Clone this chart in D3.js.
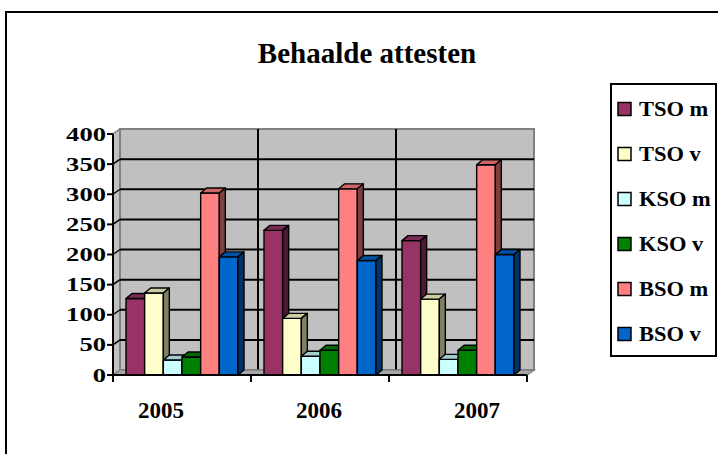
<!DOCTYPE html>
<html><head><meta charset="utf-8">
<script src="https://cdn.jsdelivr.net/npm/d3@7/dist/d3.min.js"></script>
<style>html,body{margin:0;padding:0;background:#fff;}svg{display:block;}</style>
</head><body>
<script>
// ---- data ----
const years = ["2005", "2006", "2007"];
const seriesNames = ["TSO m", "TSO v", "KSO m", "KSO v", "BSO m", "BSO v"];
const seriesColors = ["#993366", "#FFFFCC", "#CCFFFF", "#008000", "#FF8080", "#0066CC"];
const tsoM = [127, 240, 223];
const tsoV = [136, 94, 126];
const ksoM = [25, 31, 26];
const ksoV = [30, 41, 41];
const bsoM = [302, 309, 349];
const bsoV = [196, 190, 200];
const yTicks = [0, 50, 100, 150, 200, 250, 300, 350, 400];
const title = "Behaalde attesten";

const values = [tsoM, tsoV, ksoM, ksoV, bsoM, bsoV];

const W = 718, H = 454;
const svg = d3.select("body").append("svg").attr("width", W).attr("height", H);
svg.append("rect").attr("width", W).attr("height", H).attr("fill", "#fff");

// outer chart border
svg.append("rect").attr("x", 6).attr("y", 12).attr("width", 800).attr("height", 600)
  .attr("fill", "none").attr("stroke", "#000").attr("stroke-width", 2);

const font = "'Liberation Serif','Times New Roman',serif";

// title
svg.append("text").attr("x", 367).attr("y", 63).attr("text-anchor", "middle")
  .attr("font-family", font).attr("font-weight", "bold").attr("font-size", 29)
  .text(title);

// scales
const x0 = d3.scaleBand().domain(years).range([113, 527]).padding(0);
const x1 = d3.scaleBand().domain(seriesNames).range([13, 125]).padding(0);
const y = d3.scaleLinear().domain([0, 400]).range([375, 134]);
const labelX = d3.scalePoint().domain(years).range([161, 477]);

const wd = {dx: 7, dy: -5};   // wall depth
const bd = {dx: 6, dy: -5};   // bar depth
const xL = x0.range()[0], xR = x0.range()[1];
const yB = y(0), yT = y(400);

// side wall
svg.append("polygon")
  .attr("points", [[xL, yB], [xL + wd.dx, yB + wd.dy], [xL + wd.dx, yT + wd.dy], [xL, yT]].join(" "))
  .attr("fill", "#c0c0c0").attr("stroke", "#808080").attr("stroke-width", 1.5);
// back wall
svg.append("rect").attr("x", xL + wd.dx).attr("y", yT + wd.dy)
  .attr("width", xR - xL).attr("height", yB - yT)
  .attr("fill", "#c0c0c0").attr("stroke", "#808080").attr("stroke-width", 2);

// horizontal gridlines (back wall + side wall)
const gTicks = yTicks.filter(t => t > 0 && t < 400);
svg.append("g").selectAll("line").data(gTicks).join("line")
  .attr("x1", xL + wd.dx).attr("x2", xR + wd.dx)
  .attr("y1", d => y(d) + wd.dy).attr("y2", d => y(d) + wd.dy)
  .attr("stroke", "#000").attr("stroke-width", 2);
svg.append("g").selectAll("line").data(gTicks).join("line")
  .attr("x1", xL).attr("x2", xL + wd.dx)
  .attr("y1", d => y(d)).attr("y2", d => y(d) + wd.dy)
  .attr("stroke", "#000").attr("stroke-width", 1.5);
// vertical gridlines at category boundaries
svg.append("g").selectAll("line").data(years.slice(1)).join("line")
  .attr("x1", d => x0(d) + wd.dx).attr("x2", d => x0(d) + wd.dx)
  .attr("y1", yT + wd.dy).attr("y2", yB + wd.dy)
  .attr("stroke", "#000").attr("stroke-width", 2);

// floor
svg.append("polygon")
  .attr("points", [[xL, yB], [xR, yB], [xR + wd.dx, yB + wd.dy], [xL + wd.dx, yB + wd.dy]].join(" "))
  .attr("fill", "#a8a8a8").attr("stroke", "#808080").attr("stroke-width", 1.5);

// bars
function shade(c, k) {
  const r = d3.rgb(c);
  return d3.rgb(r.r * k, r.g * k, r.b * k).formatHex();
}
const gb = svg.append("g").attr("stroke", "#000").attr("stroke-width", 1.4).attr("stroke-linejoin", "round");
years.forEach((yr, gi) => {
  seriesNames.forEach((s, si) => {
    const v = values[si][gi];
    const bx = x0(yr) + x1(s), bw = x1.bandwidth();
    const t = y(v), b = y(0);
    const c = seriesColors[si];
    gb.append("rect").attr("x", bx).attr("y", t).attr("width", bw).attr("height", b - t).attr("fill", c);
    gb.append("polygon").attr("points",
      [[bx, t], [bx + bd.dx, t + bd.dy], [bx + bw + bd.dx, t + bd.dy], [bx + bw, t]].join(" "))
      .attr("fill", shade(c, 0.8));
    gb.append("polygon").attr("points",
      [[bx + bw, t], [bx + bw + bd.dx, t + bd.dy], [bx + bw + bd.dx, b + bd.dy], [bx + bw, b]].join(" "))
      .attr("fill", shade(c, 0.5));
  });
});

// axes lines
svg.append("line").attr("x1", xL).attr("x2", xL).attr("y1", yT).attr("y2", yB)
  .attr("stroke", "#000").attr("stroke-width", 2);
svg.append("line").attr("x1", xL).attr("x2", xR).attr("y1", yB).attr("y2", yB)
  .attr("stroke", "#000").attr("stroke-width", 2);
// y ticks
svg.append("g").selectAll("line").data(yTicks).join("line")
  .attr("x1", xL - 6).attr("x2", xL).attr("y1", d => y(d)).attr("y2", d => y(d))
  .attr("stroke", "#000").attr("stroke-width", 2);
// x ticks at category boundaries
const xb = years.map(d => x0(d)).concat([xR]);
svg.append("g").selectAll("line").data(xb).join("line")
  .attr("x1", d => d).attr("x2", d => d).attr("y1", yB).attr("y2", yB + 7)
  .attr("stroke", "#000").attr("stroke-width", 2);

// y labels
svg.append("g").selectAll("text").data(yTicks).join("text")
  .attr("transform", d => `translate(106,${y(d) + 6.5}) scale(1.4,1)`)
  .attr("text-anchor", "end").attr("font-family", font).attr("font-weight", "bold")
  .attr("font-size", 19).text(d => d);

// x labels
svg.append("g").selectAll("text").data(years).join("text")
  .attr("x", d => labelX(d)).attr("y", 418).attr("text-anchor", "middle")
  .attr("font-family", font).attr("font-weight", "bold").attr("font-size", 23).text(d => d);

// legend
const lg = svg.append("g");
lg.append("rect").attr("x", 611).attr("y", 84).attr("width", 105).attr("height", 272)
  .attr("fill", "#fff").attr("stroke", "#000").attr("stroke-width", 2);
const ly = d3.scalePoint().domain(seriesNames).range([109, 334]);
seriesNames.forEach((s, i) => {
  lg.append("rect").attr("x", 618).attr("y", ly(s) - 6.5).attr("width", 13).attr("height", 13)
    .attr("fill", seriesColors[i]).attr("stroke", "#000").attr("stroke-width", 1.5);
  lg.append("text").attr("transform", `translate(639,${ly(s) + 7}) scale(1.07,1)`)
    .attr("font-family", font).attr("font-weight", "bold").attr("font-size", 21).text(s);
});
</script>
</body></html>
